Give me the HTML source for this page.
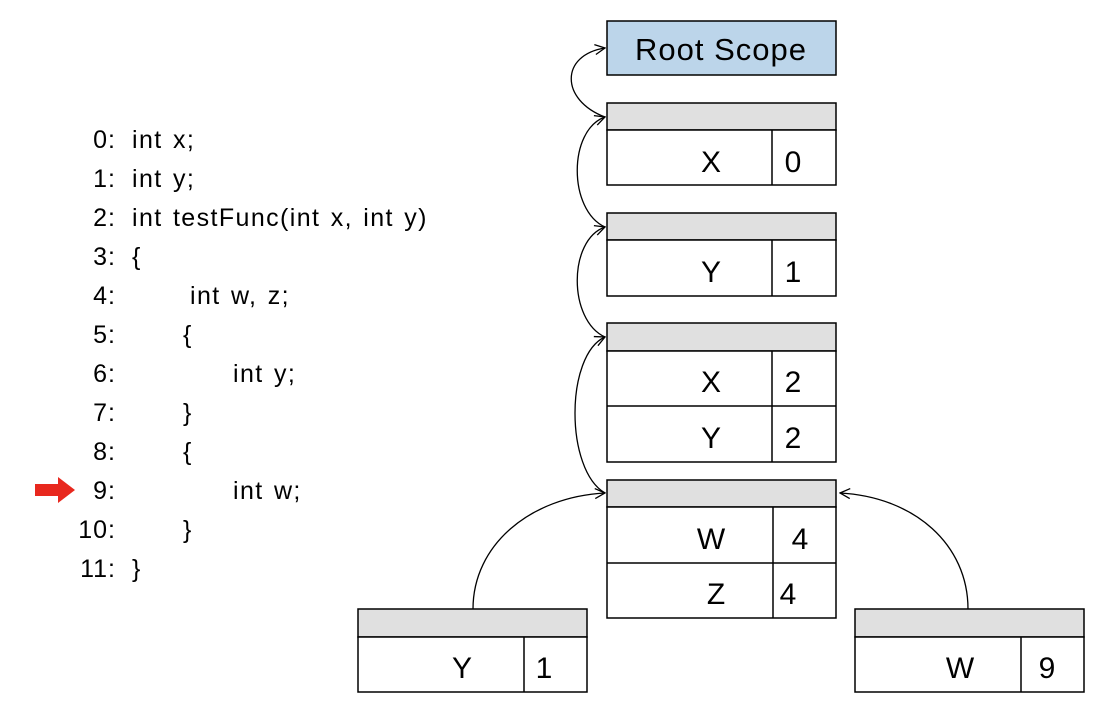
<!DOCTYPE html>
<html><head><style>
body{margin:0;width:1096px;height:705px;background:#fff;position:relative;font-family:"Liberation Sans",sans-serif;overflow:hidden}
.c{position:absolute;font-size:25px;line-height:28px;color:#000;white-space:pre;letter-spacing:1.4px;word-spacing:2px}
.n{position:absolute;width:60px;text-align:right;font-size:25px;line-height:28px;letter-spacing:1px}
</style></head><body>
<svg width="1096" height="705" style="position:absolute;left:0;top:0" font-family="Liberation Sans, sans-serif">
<defs><marker id="a" markerWidth="12" markerHeight="12" refX="11" refY="6" orient="auto" markerUnits="userSpaceOnUse"><path d="M1,1 L11,6 L1,11" fill="none" stroke="#000" stroke-width="1.3"/></marker></defs>
<g stroke="#000" stroke-width="1.5">
<rect x="607" y="21" width="229" height="54" fill="#bcd5ea"/>
<rect x="607" y="103" width="229" height="27" fill="#e0e0e0"/>
<rect x="607" y="130" width="229" height="55" fill="#fff"/><line x1="772" y1="130" x2="772" y2="185"/>
<rect x="607" y="213" width="229" height="27" fill="#e0e0e0"/>
<rect x="607" y="240" width="229" height="56" fill="#fff"/><line x1="772" y1="240" x2="772" y2="296"/>
<rect x="607" y="323" width="229" height="28" fill="#e0e0e0"/>
<rect x="607" y="351" width="229" height="111" fill="#fff"/><line x1="772" y1="351" x2="772" y2="462"/><line x1="607" y1="406" x2="836" y2="406"/>
<rect x="607" y="480" width="229" height="27" fill="#e0e0e0"/>
<rect x="607" y="507" width="229" height="111" fill="#fff"/><line x1="773" y1="507" x2="773" y2="618"/><line x1="607" y1="563" x2="836" y2="563"/>
<rect x="358" y="609" width="229" height="28" fill="#e0e0e0"/>
<rect x="358" y="637" width="229" height="55" fill="#fff"/><line x1="524" y1="637" x2="524" y2="692"/>
<rect x="855" y="609" width="229" height="28" fill="#e0e0e0"/>
<rect x="855" y="637" width="229" height="55" fill="#fff"/><line x1="1021" y1="637" x2="1021" y2="692"/>
</g>
<g fill="none" stroke="#000" stroke-width="1.3" marker-end="url(#a)">
<path d="M605,117 C560,100 560,55 605,48"/>
<path d="M605,227 C568,210 568,130 605,117"/>
<path d="M605,337 C568,320 568,240 605,227"/>
<path d="M605,493 C565,470 565,355 605,337"/>
<path d="M473,609 C473,545 530,497 605,493"/>
<path d="M968,609 C968,545 915,497 840,493"/>
</g>
<g font-size="30" text-anchor="middle">
<text x="721" y="60" font-size="31" letter-spacing="1">Root Scope</text>
<text x="711" y="172">X</text><text x="793" y="172">0</text>
<text x="711" y="282">Y</text><text x="793" y="282">1</text>
<text x="711" y="392">X</text><text x="793" y="392">2</text>
<text x="711" y="448">Y</text><text x="793" y="448">2</text>
<text x="711" y="549">W</text><text x="800" y="549">4</text>
<text x="716" y="604">Z</text><text x="788" y="604">4</text>
<text x="462" y="678">Y</text><text x="544" y="678">1</text>
<text x="960" y="678">W</text><text x="1047" y="678">9</text>
</g>
<path d="M35,484 L58,484 L58,477 L75,490 L58,503 L58,496 L35,496 Z" fill="#e8281e"/>
</svg>
<div class="n" style="left:56px;top:126px">0:</div><div class="c" style="left:132px;top:126px">int x;</div>
<div class="n" style="left:56px;top:165px">1:</div><div class="c" style="left:132px;top:165px">int y;</div>
<div class="n" style="left:56px;top:204px">2:</div><div class="c" style="left:132px;top:204px">int testFunc(int x, int y)</div>
<div class="n" style="left:56px;top:243px">3:</div><div class="c" style="left:132px;top:243px">{</div>
<div class="n" style="left:56px;top:282px">4:</div><div class="c" style="left:190px;top:282px">int w, z;</div>
<div class="n" style="left:56px;top:321px">5:</div><div class="c" style="left:183px;top:321px">{</div>
<div class="n" style="left:56px;top:360px">6:</div><div class="c" style="left:233px;top:360px">int y;</div>
<div class="n" style="left:56px;top:399px">7:</div><div class="c" style="left:183px;top:399px">}</div>
<div class="n" style="left:56px;top:438px">8:</div><div class="c" style="left:183px;top:438px">{</div>
<div class="n" style="left:56px;top:477px">9:</div><div class="c" style="left:233px;top:477px">int w;</div>
<div class="n" style="left:56px;top:516px">10:</div><div class="c" style="left:183px;top:516px">}</div>
<div class="n" style="left:56px;top:555px">11:</div><div class="c" style="left:132px;top:555px">}</div>
</body></html>
